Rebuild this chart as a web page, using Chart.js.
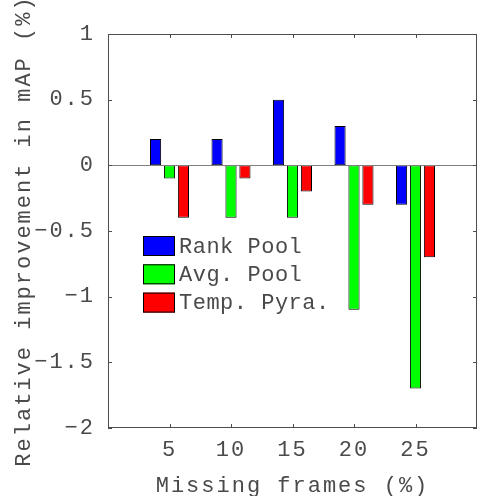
<!DOCTYPE html>
<html>
<head>
<meta charset="utf-8">
<script src="https://cdn.jsdelivr.net/npm/chart.js@4"></script>
<style>
  html, body { margin: 0; padding: 0; background: #fff; }
  #wrap { width: 477px; height: 496px; }
</style>
</head>
<body>
<div id="wrap"><canvas id="my-chart"></canvas></div>
<script>
const categories = ["5", "10", "15", "20", "25"];
const rankPool = [0.2, 0.2, 0.5, 0.3, -0.3];
const avgPool = [-0.1, -0.4, -0.4, -1.1, -1.7];
const tempPyra = [-0.4, -0.1, -0.2, -0.3, -0.7];
const seriesNames = ["Rank Pool", "Avg. Pool", "Temp. Pyra."];
const seriesColors = ["#0000ff", "#00ff00", "#ff0000"];
const yTicks = [-2, -1.5, -1, -0.5, 0, 0.5, 1];

const textColor = "#4a4a4a";
const axisColor = "#4d4d4d";
const fontFamily = "'Liberation Mono', 'Courier New', monospace";

// empty slots at both ends so the x axis runs 0..30 like the original
const labels = ["", ...categories, ""];
const pad = (arr) => [null, ...arr, null];

const frame = {
  id: "frame",
  beforeDraw(chart) {
    // the original's Courier is wider spaced than Liberation Mono
    chart.ctx.letterSpacing = "2px";
  },
  afterDatasetsDraw(chart) {
    const { ctx, chartArea: a, scales } = chart;
    ctx.save();
    ctx.lineWidth = 1;

    // zero baseline
    const y0 = Math.round(scales.y.getPixelForValue(0)) + 0.5;
    ctx.strokeStyle = "#808080";
    ctx.beginPath();
    ctx.moveTo(a.left, y0);
    ctx.lineTo(a.right, y0);
    ctx.stroke();

    // axes box
    ctx.strokeStyle = axisColor;
    ctx.strokeRect(a.left + 0.5, a.top + 0.5, a.right - a.left - 1, a.bottom - a.top - 1);

    // ticks pointing inward
    const len = 4;
    ctx.beginPath();
    categories.forEach((c, i) => {
      const x = Math.round(scales.x.getPixelForTick(i + 1)) + 0.5;
      ctx.moveTo(x, a.bottom);
      ctx.lineTo(x, a.bottom - len);
      ctx.moveTo(x, a.top);
      ctx.lineTo(x, a.top + len);
    });
    yTicks.forEach((v) => {
      const y = Math.round(scales.y.getPixelForValue(v)) + 0.5;
      ctx.moveTo(a.left, y);
      ctx.lineTo(a.left + len, y);
      ctx.moveTo(a.right, y);
      ctx.lineTo(a.right - len, y);
    });
    ctx.stroke();
    ctx.restore();
  },
  afterDraw(chart) {
    // legend sits inside the axes, without a frame
    const { ctx, chartArea: a } = chart;
    ctx.save();
    ctx.letterSpacing = "0.5px";
    ctx.font = "22px " + fontFamily;
    ctx.textBaseline = "middle";
    ctx.textAlign = "left";
    chart.data.datasets.forEach((ds, i) => {
      const bx = a.left + 35;
      const by = 236 + i * 28.3;
      ctx.fillStyle = ds.backgroundColor;
      ctx.fillRect(bx, by, 32, 20);
      ctx.strokeStyle = "#000";
      ctx.strokeRect(bx + 0.5, by + 0.5, 31, 19);
      ctx.fillStyle = textColor;
      ctx.fillText(ds.label, bx + 36, by + 11);
    });
    ctx.restore();
  },
};

const barStyle = {
  borderColor: "#000",
  borderWidth: 1,
  borderSkipped: false,
  categoryPercentage: 0.68,
  barPercentage: 0.8,
};

new Chart(document.getElementById("my-chart"), {
  type: "bar",
  data: {
    labels: labels,
    datasets: [
      { label: seriesNames[0], data: pad(rankPool), backgroundColor: seriesColors[0], ...barStyle },
      { label: seriesNames[1], data: pad(avgPool), backgroundColor: seriesColors[1], ...barStyle },
      { label: seriesNames[2], data: pad(tempPyra), backgroundColor: seriesColors[2], ...barStyle },
    ],
  },
  options: {
    responsive: true,
    maintainAspectRatio: false,
    animation: false,
    layout: { padding: { left: 0, top: 34, right: -2, bottom: 0 } },
    plugins: {
      legend: { display: false },
      tooltip: { enabled: false },
    },
    scales: {
      x: {
        type: "category",
        offset: false,
        grid: { display: false, offset: false },
        border: { display: false },
        ticks: {
          color: textColor,
          font: { family: fontFamily, size: 22 },
          padding: 1,
          maxRotation: 0,
          autoSkip: false,
        },
        title: {
          display: true,
          text: "Missing frames (%)",
          color: textColor,
          font: { family: fontFamily, size: 22, lineHeight: 0.87 },
          padding: 0,
        },
        afterFit: (s) => {
          s.height = 68;
          s.paddingLeft = 0;
          s.paddingRight = 0;
        },
      },
      y: {
        min: -2,
        max: 1,
        grid: { display: false },
        border: { display: false },
        afterBuildTicks: (s) => { s.ticks = yTicks.map((v) => ({ value: v })); },
        ticks: {
          color: textColor,
          font: { family: fontFamily, size: 22 },
          padding: 5,
          callback: (v) => String(v).replace("-", "\u2212"),
        },
        title: {
          display: true,
          text: "Relative improvement in mAP (%)",
          color: textColor,
          font: { family: fontFamily, size: 22, lineHeight: 0.87 },
          padding: { top: 15, bottom: 0 },
        },
        afterFit: (s) => { s.width = 108; },
      },
    },
  },
  plugins: [frame],
});
</script>
</body>
</html>
